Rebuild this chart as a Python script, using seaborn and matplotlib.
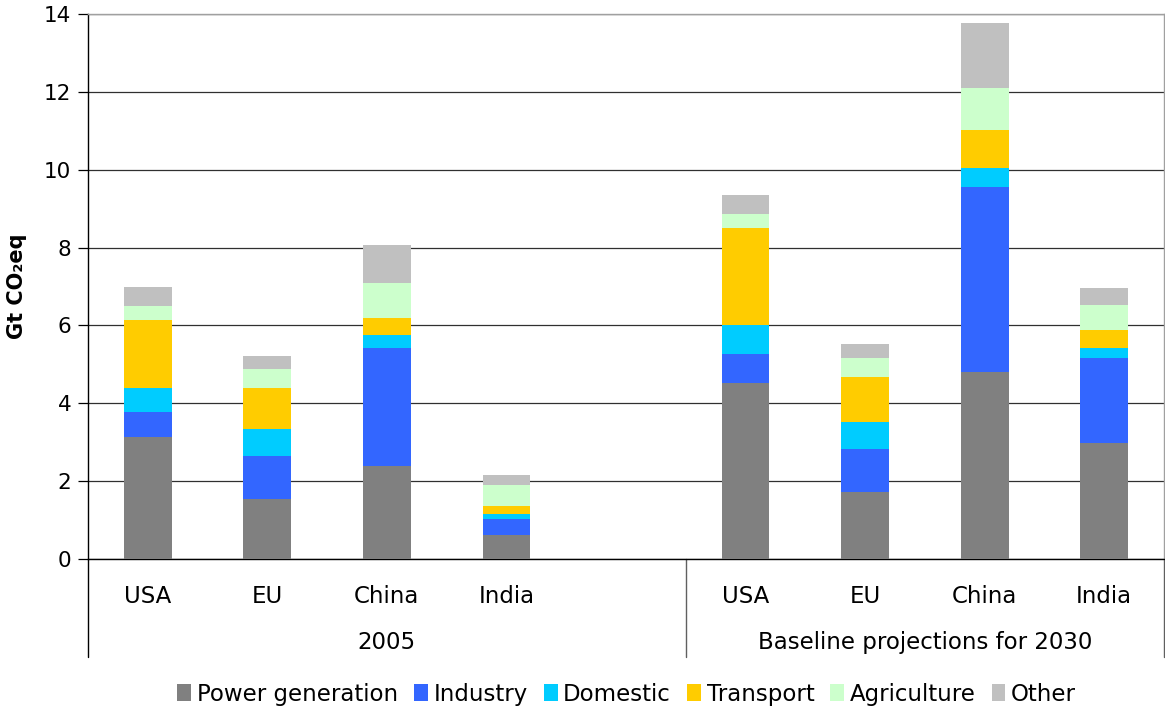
import pandas as pd
import matplotlib
matplotlib.use("Agg")
import matplotlib.pyplot as plt
import matplotlib.transforms as mtransforms
from matplotlib.patches import Patch
import seaborn as sns

# ------------------------------
# Data (Gt CO2eq)
# ------------------------------
regions = ["USA", "EU", "China", "India"]
groups = ["2005", "Baseline projections for 2030"]
sectors = ["Power generation", "Industry", "Domestic", "Transport", "Agriculture", "Other"]

power_2005 = [3.13, 1.54, 2.39, 0.62]
industry_2005 = [0.65, 1.11, 3.03, 0.41]
domestic_2005 = [0.61, 0.69, 0.33, 0.13]
transport_2005 = [1.75, 1.05, 0.44, 0.20]
agriculture_2005 = [0.36, 0.49, 0.90, 0.54]
other_2005 = [0.49, 0.33, 0.98, 0.26]

power_2030 = [4.51, 1.73, 4.81, 2.98]
industry_2030 = [0.75, 1.10, 4.75, 2.18]
domestic_2030 = [0.75, 0.69, 0.48, 0.26]
transport_2030 = [2.49, 1.16, 0.97, 0.46]
agriculture_2030 = [0.36, 0.48, 1.09, 0.64]
other_2030 = [0.49, 0.37, 1.67, 0.44]

colors = ["#808080", "#3366FF", "#00CCFF", "#FFCC00", "#CCFFCC", "#C0C0C0"]

# ------------------------------
# Build a long table: one row per bar slot
# ------------------------------
slots_2005 = ["2005 " + r for r in regions]
slots_2030 = ["2030 " + r for r in regions]
order = slots_2005 + ["gap"] + slots_2030

df = pd.DataFrame({
    "slot": slots_2005 + slots_2030,
    "Power generation": power_2005 + power_2030,
    "Industry": industry_2005 + industry_2030,
    "Domestic": domestic_2005 + domestic_2030,
    "Transport": transport_2005 + transport_2030,
    "Agriculture": agriculture_2005 + agriculture_2030,
    "Other": other_2005 + other_2030,
})
# cumulative sums so the bars can be layered from tallest to shortest
cum = df[sectors].cumsum(axis=1)
cum["slot"] = df["slot"]

# ------------------------------
# Plot
# ------------------------------
sns.set_style("white")
plt.rcParams["font.family"] = ["DejaVu Sans"]
plt.rcParams["text.color"] = "black"
plt.rcParams["axes.labelcolor"] = "black"
plt.rcParams["ytick.labelcolor"] = "black"

fig = plt.figure(figsize=(11.65, 7.09), dpi=100)
ax = fig.add_axes([88 / 1165, 150 / 709, 1076 / 1165, 545 / 709])

for sector, color in reversed(list(zip(sectors, colors))):
    sns.barplot(data=cum, x="slot", y=sector, order=order, color=color,
                saturation=1, width=0.4, errorbar=None, ax=ax, zorder=3,
                linewidth=0, edgecolor="none")

ax.set_xlim(-0.5, len(order) - 0.5)
ax.set_ylim(0, 14)
ax.set_yticks(range(0, 15, 2))
ax.yaxis.grid(True, color="#303030", linewidth=0.9, zorder=0)
ax.set_axisbelow(True)
ax.tick_params(axis="y", labelsize=15.5, length=7, width=0.9, color="black",
               labelcolor="black", direction="out", left=True, pad=5)
ax.tick_params(axis="x", length=0)
ax.set_xticks([])
ax.set_xlabel("")

ax.set_ylabel("Gt CO₂eq", fontsize=15, fontweight="bold", color="black")
ax.yaxis.set_label_coords(-0.057, 0.5)

for side in ["left", "bottom"]:
    ax.spines[side].set_color("black")
    ax.spines[side].set_linewidth(1.0)
for side in ["top", "right"]:
    ax.spines[side].set_color("#a0a0a0")
    ax.spines[side].set_linewidth(1.0)

# ------------------------------
# Two-level category axis
# ------------------------------
trans = mtransforms.blended_transform_factory(ax.transData, ax.transAxes)
for i, name in enumerate(order):
    if name == "gap":
        continue
    ax.text(i, -0.068, name.split(" ", 1)[1], transform=trans,
            ha="center", va="center", fontsize=16.5, color="black")

ax.text(2, -0.154, groups[0], transform=trans, ha="center", va="center",
        fontsize=16.5, color="black")
ax.text(6.5, -0.154, groups[1], transform=trans, ha="center", va="center",
        fontsize=16.5, color="black")

for x, c in [(-0.5, "black"), (4.5, "#606060"), (8.5, "#606060")]:
    ax.plot([x, x], [0, -0.18], transform=trans, color=c, linewidth=1.0, clip_on=False)

# ------------------------------
# Legend
# ------------------------------
handles = [Patch(facecolor=c, edgecolor="none") for c in colors]
fig.legend(handles, sectors, loc="center", bbox_to_anchor=(0.538, 0.021),
           ncol=6, frameon=False, fontsize=16.5, handlelength=0.6, handleheight=0.8,
           handletextpad=0.25, columnspacing=0.7, labelcolor="black")

fig.savefig("out.png", dpi=100)
